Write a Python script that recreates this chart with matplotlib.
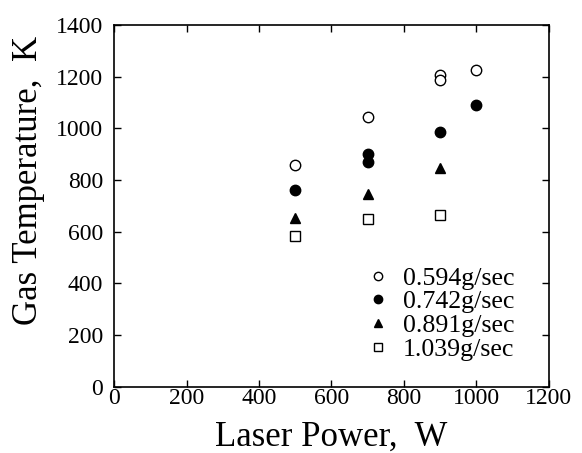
import matplotlib.pyplot as plt
import matplotlib as mpl

mpl.rcParams.update({
    "font.family": "Liberation Serif",
    "font.size": 14,
    "xtick.direction": "in",
    "ytick.direction": "in",
    "xtick.top": True,
    "ytick.right": True,
})

# data
power_594 = [500, 700, 900, 900, 1000]
temp_594 = [860, 1045, 1205, 1188, 1225]

power_742 = [500, 700, 700, 900, 1000]
temp_742 = [760, 900, 870, 985, 1090]

power_891 = [500, 700, 900]
temp_891 = [655, 745, 848]

power_1039 = [500, 700, 900]
temp_1039 = [585, 650, 665]

xticks = [0, 200, 400, 600, 800, 1000, 1200]
yticks = [0, 200, 400, 600, 800, 1000, 1200, 1400]

fig = plt.figure(figsize=(5.82, 4.53), dpi=100)
ax = fig.add_axes([0.196, 0.146, 0.747, 0.799])

ax.plot(power_594, temp_594, "o", ms=7.5, mfc="white", mec="black", mew=1.0,
        label="0.594g/sec")
ax.plot(power_742, temp_742, "o", ms=7.5, mfc="black", mec="black",
        label="0.742g/sec")
ax.plot(power_891, temp_891, "^", ms=6.5, mfc="black", mec="black",
        label="0.891g/sec")
ax.plot(power_1039, temp_1039, "s", ms=6.5, mfc="white", mec="black", mew=1.0,
        label="1.039g/sec")

ax.set_xlim(0, 1200)
ax.set_ylim(0, 1400)
ax.set_xticks(xticks)
ax.set_yticks(yticks)
ax.tick_params(length=5, width=1, labelsize=17)
ax.tick_params(axis="x", pad=1)
ax.tick_params(axis="y", pad=8)
for s in ax.spines.values():
    s.set_linewidth(1.2)

ax.set_xlabel("Laser Power,  W", fontsize=25, labelpad=8)
ax.set_ylabel("Gas Temperature,  K", fontsize=25)
ax.yaxis.set_label_coords(-0.16, 0.57)

ax.legend(loc="lower right", bbox_to_anchor=(0.95, 0.037), frameon=False,
          fontsize=18.6, markerscale=0.8, handlelength=0.8, handletextpad=0.55,
          labelspacing=0.02, borderpad=0)

fig.savefig("out.png", dpi=100)
